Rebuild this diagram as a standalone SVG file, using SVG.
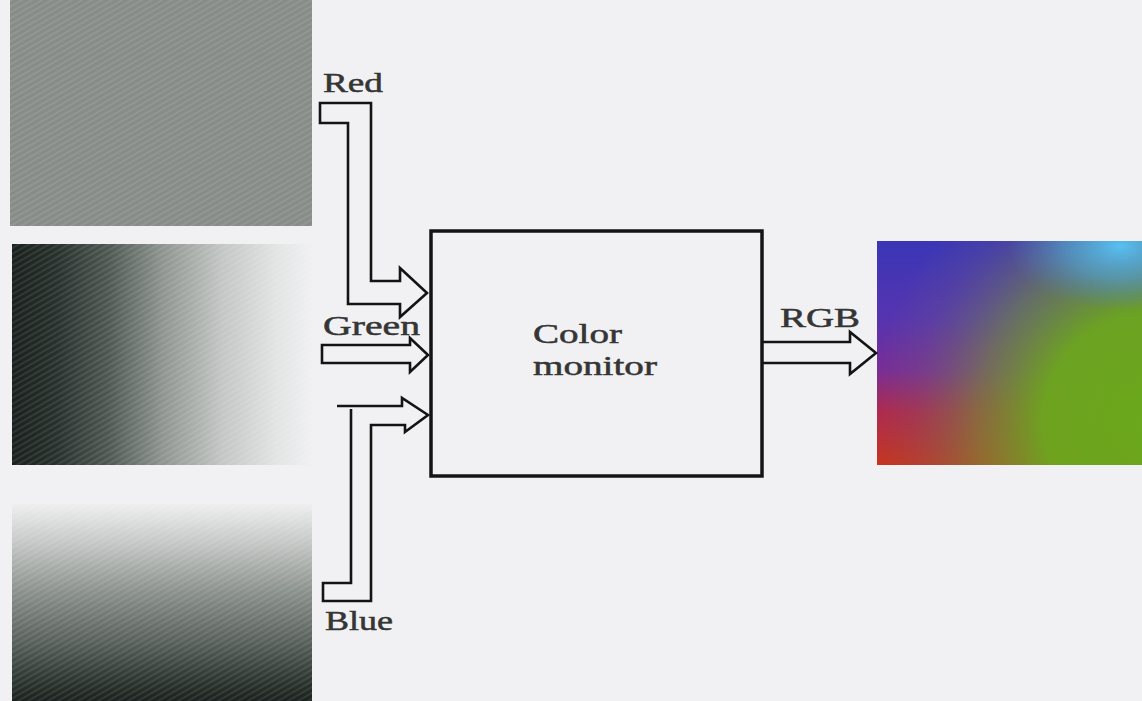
<svg xmlns="http://www.w3.org/2000/svg" width="1142" height="701" viewBox="0 0 1142 701">
  <style>
    .lbl { font-family: "Liberation Serif", "Times New Roman", serif; font-size: 27px; fill: #353535; stroke: #353535; stroke-width: 0.5; }
    .arrow { fill: none; stroke: #141414; stroke-width: 2.6; stroke-linejoin: miter; }
    .box { fill: #f1f1f3; stroke: #141414; stroke-width: 3.5; }
  </style>
  <defs>
    <linearGradient id="gMid" x1="0" y1="0" x2="1" y2="0">
      <stop offset="0" stop-color="#1a201d"/>
      <stop offset="0.15" stop-color="#28312d"/>
      <stop offset="0.32" stop-color="#4e5853"/>
      <stop offset="0.5" stop-color="#8e9490"/>
      <stop offset="0.7" stop-color="#c3c6c4"/>
      <stop offset="0.88" stop-color="#e2e3e3"/>
      <stop offset="1" stop-color="#f0f0f2"/>
    </linearGradient>
    <linearGradient id="gBot" x1="0" y1="0" x2="0" y2="1">
      <stop offset="0" stop-color="#eeeeef"/>
      <stop offset="0.2" stop-color="#c4c7c5"/>
      <stop offset="0.45" stop-color="#8a908c"/>
      <stop offset="0.7" stop-color="#59615c"/>
      <stop offset="0.88" stop-color="#303934"/>
      <stop offset="1" stop-color="#1a211e"/>
    </linearGradient>
    <linearGradient id="gRgbV" x1="0" y1="0" x2="0" y2="1">
      <stop offset="0" stop-color="#3a36b6"/>
      <stop offset="0.35" stop-color="#5634b0"/>
      <stop offset="0.58" stop-color="#7a2c96"/>
      <stop offset="0.76" stop-color="#b0284e"/>
      <stop offset="1" stop-color="#c8341c"/>
    </linearGradient>
    <radialGradient id="gGreen" cx="1150" cy="420" r="280" gradientUnits="userSpaceOnUse">
      <stop offset="0" stop-color="#6aa81c" stop-opacity="1"/>
      <stop offset="0.38" stop-color="#6ca61e" stop-opacity="0.97"/>
      <stop offset="0.62" stop-color="#72903a" stop-opacity="0.6"/>
      <stop offset="0.85" stop-color="#706a70" stop-opacity="0.2"/>
      <stop offset="1" stop-color="#706a70" stop-opacity="0"/>
    </radialGradient>
    <radialGradient id="gCyan" cx="1120" cy="246" r="80" gradientUnits="userSpaceOnUse" gradientTransform="translate(1120 246) scale(1.4 0.8) translate(-1120 -246)">
      <stop offset="0" stop-color="#58c0f0" stop-opacity="1"/>
      <stop offset="0.5" stop-color="#4fa4e0" stop-opacity="0.6"/>
      <stop offset="1" stop-color="#4a80d0" stop-opacity="0"/>
    </radialGradient>
    <pattern id="screen" width="5" height="5" patternUnits="userSpaceOnUse" patternTransform="rotate(-30)">
      <rect width="5" height="2" fill="#ffffff" fill-opacity="0.09"/>
    </pattern>
  </defs>

  <rect width="1142" height="701" fill="#f1f1f3"/>

  <g id="panel-red">
    <rect x="10" y="0" width="302" height="226" fill="#878c88"/>
    <rect x="10" y="0" width="302" height="226" fill="url(#screen)"/>
  </g>
  <g id="panel-green">
    <rect x="12" y="244" width="300" height="221" fill="url(#gMid)"/>
    <rect x="12" y="244" width="300" height="221" fill="url(#screen)"/>
  </g>
  <g id="panel-blue">
    <rect x="12" y="504" width="300" height="197" fill="url(#gBot)"/>
    <rect x="12" y="504" width="300" height="197" fill="url(#screen)"/>
  </g>

  <g id="rgb-image">
    <rect x="877" y="241" width="265" height="224" fill="url(#gRgbV)"/>
    <rect x="877" y="241" width="265" height="224" fill="url(#gGreen)"/>
    <rect x="877" y="241" width="265" height="224" fill="url(#gCyan)"/>
  </g>

  <g id="color-monitor">
    <rect class="box" x="431" y="231" width="331" height="245"/>
    <text class="lbl" x="533" y="343" textLength="89" lengthAdjust="spacingAndGlyphs">Color</text>
    <text class="lbl" x="533" y="375" textLength="124" lengthAdjust="spacingAndGlyphs">monitor</text>
  </g>

  <g id="labels">
    <text class="lbl" x="323" y="92" textLength="60" lengthAdjust="spacingAndGlyphs">Red</text>
    <text class="lbl" x="323" y="335" textLength="97" lengthAdjust="spacingAndGlyphs">Green</text>
    <text class="lbl" x="325" y="630" textLength="68" lengthAdjust="spacingAndGlyphs">Blue</text>
    <text class="lbl" x="780" y="327" textLength="80" lengthAdjust="spacingAndGlyphs">RGB</text>
  </g>

  <g id="connectors">
    <path class="arrow" d="M320,103 H371 V281 H400 V268 L427,293 L400,317 V304 H348 V123 H320 Z"/>
    <path class="arrow" d="M322,345 H410 V338 L428,355 L410,372 V363 H322 Z"/>
    <path class="arrow" d="M351,409 V583 H323 V601 H371 V425 H405 V432 L428,415 L402,398 V406 H337"/>
    <path class="arrow" d="M763,342 H850 V332 L876,353 L850,374 V363 H763"/>
  </g>
</svg>
